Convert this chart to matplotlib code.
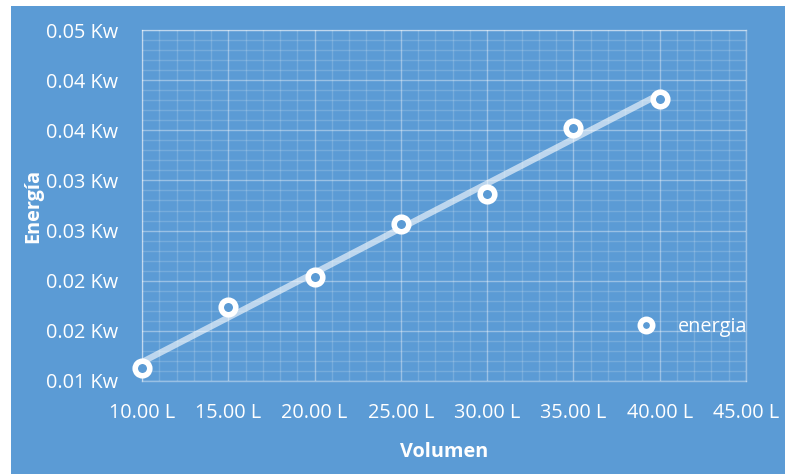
import numpy as np
import matplotlib
matplotlib.use("Agg")
import matplotlib.pyplot as plt
from matplotlib.patches import Rectangle
from matplotlib.ticker import MultipleLocator, FuncFormatter
from decimal import Decimal, ROUND_HALF_UP

# Measured volume (L) and energy (Kw)
volumen = [10, 15, 20, 25, 30, 35, 40]
energia = [0.01129, 0.01736, 0.02034, 0.02561, 0.02869, 0.03525, 0.03813]

x_ticks = [10, 15, 20, 25, 30, 35, 40, 45]
y_ticks = [0.010, 0.015, 0.020, 0.025, 0.030, 0.035, 0.040, 0.045]

BG = "#5B9BD5"
FS = 14.3
plt.rcParams["font.family"] = ["Open Sans", "DejaVu Sans"]


def fmt2(v):
    # two decimals, halves rounded up
    return str(Decimal(str(round(v, 6))).quantize(Decimal("0.01"), rounding=ROUND_HALF_UP))


fig = plt.figure(figsize=(7.85, 4.74), dpi=100)
fig.patch.set_facecolor("white")
fig.patches.append(Rectangle((11 / 785, 0), 1 - 11 / 785, 1 - 6 / 474,
                             transform=fig.transFigure, facecolor=BG,
                             edgecolor="none", zorder=-10))

ax = fig.add_axes([142 / 785, 1 - 381 / 474, (746 - 142) / 785, (381 - 30) / 474])
ax.set_facecolor(BG)
ax.set_xlim(10, 45)
ax.set_ylim(0.010, 0.045)
ax.set_xticks(x_ticks)
ax.set_yticks(y_ticks)
ax.xaxis.set_minor_locator(MultipleLocator(1))
ax.yaxis.set_minor_locator(MultipleLocator(0.001))
ax.xaxis.set_major_formatter(FuncFormatter(lambda v, p: f"{fmt2(v)} L"))
ax.yaxis.set_major_formatter(FuncFormatter(lambda v, p: f"{fmt2(v)} Kw"))

ax.grid(which="major", color="white", alpha=0.38, linewidth=1.0)
ax.grid(which="minor", color="white", alpha=0.16, linewidth=1.0)
ax.set_axisbelow(True)
for s in ax.spines.values():
    s.set_color((1, 1, 1, 0.38))
    s.set_linewidth(1.0)
ax.tick_params(which="both", length=0, colors="white", labelsize=FS)
ax.tick_params(axis="y", pad=17)
ax.tick_params(axis="x", pad=16)

# Linear trend line
m, b = np.polyfit(volumen, energia, 1)
xs = np.array([volumen[0], volumen[-1]])
ax.plot(xs, m * xs + b, color="white", alpha=0.6, linewidth=4.5,
        solid_capstyle="butt", zorder=2)

ax.plot(volumen, energia, linestyle="none", marker="o", markersize=10.5,
        markerfacecolor=BG, markeredgecolor="white", markeredgewidth=4.0,
        zorder=3, label="energia", clip_on=False)

leg = ax.legend(loc="center left", bbox_to_anchor=(634 / 785, 1 - 327 / 474),
                bbox_transform=fig.transFigure, frameon=False, fontsize=FS,
                handlelength=1.2, handletextpad=1.0, borderpad=0,
                borderaxespad=0, markerscale=0.85)
for t in leg.get_texts():
    t.set_color("white")

ax.set_xlabel("Volumen", color="white", fontsize=FS, fontweight="bold")
ax.xaxis.set_label_coords(0.5, -(442 - 381) / 351)
ax.set_ylabel("Energía", color="white", fontsize=FS, fontweight="bold")
ax.yaxis.set_label_coords(-(142 - 43) / 604, 0.5)

fig.savefig("out.png", dpi=100, facecolor=fig.get_facecolor())
